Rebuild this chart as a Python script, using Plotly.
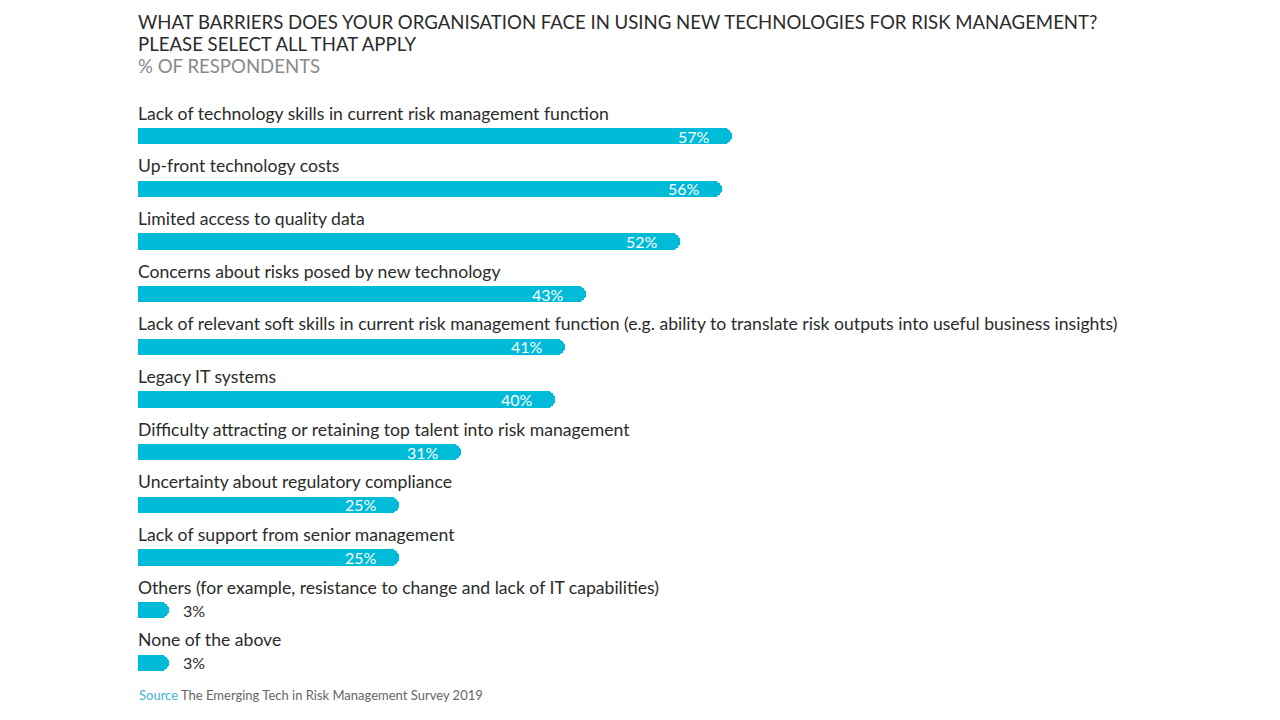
import plotly.graph_objects as go

categories = [
    "Lack of technology skills in current risk management function",
    "Up-front technology costs",
    "Limited access to quality data",
    "Concerns about risks posed by new technology",
    "Lack of relevant soft skills in current risk management function (e.g. ability to translate risk outputs into useful business insights)",
    "Legacy IT systems",
    "Difficulty attracting or retaining top talent into risk management",
    "Uncertainty about regulatory compliance",
    "Lack of support from senior management",
    "Others (for example, resistance to change and lack of IT capabilities)",
    "None of the above",
]
values = [57, 56, 52, 43, 41, 40, 31, 25, 25, 3, 3]

BAR = "#00BBD8"
FONT = "Lato, 'Open Sans', sans-serif"
positions = list(range(len(categories)))

fig = go.Figure()
fig.add_trace(go.Bar(
    x=values, y=positions, orientation="h",
    marker=dict(color=BAR, cornerradius=8, line=dict(width=0)),
    width=0.31, hoverinfo="skip",
))

annotations = []
for i, (c, v) in enumerate(zip(categories, values)):
    annotations.append(dict(
        x=0, y=i, xref="x", yref="y", text=c, showarrow=False,
        xanchor="left", yanchor="middle", yshift=23, xshift=-2,
        font=dict(family=FONT, size=17.6, color="#2b2b2b"),
    ))
    if v >= 10:
        annotations.append(dict(
            x=v, y=i, xref="x", yref="y", text=f"{v}%", showarrow=False,
            xanchor="right", yanchor="middle", xshift=-20, yshift=0,
            font=dict(family=FONT, size=16, color="white"),
        ))
    else:
        annotations.append(dict(
            x=v, y=i, xref="x", yref="y", text=f"{v}%", showarrow=False,
            xanchor="left", yanchor="middle", xshift=12, yshift=0,
            font=dict(family=FONT, size=16, color="#2b2b2b"),
        ))

def py(p):
    # page pixel y -> paper y, plot area spans page pixels 110..689
    return (689 - p) / 579

title_lines = [
    ("WHAT BARRIERS DOES YOUR ORGANISATION FACE IN USING NEW TECHNOLOGIES FOR RISK MANAGEMENT?", "#2b2b2b", 22),
    ("PLEASE SELECT ALL THAT APPLY", "#2b2b2b", 44),
    ("% OF RESPONDENTS", "#8a8a8a", 66),
]
for t, col, yp in title_lines:
    annotations.append(dict(
        x=0, y=py(yp), xref="paper", yref="paper", text=t, showarrow=False,
        xanchor="left", yanchor="middle", xshift=-2,
        font=dict(family=FONT, size=18.6, color=col),
    ))
annotations.append(dict(
    x=0, y=py(695), xref="paper", yref="paper",
    text="<span style='color:#3fb3d3'>Source</span> The Emerging Tech in Risk Management Survey 2019",
    showarrow=False, xanchor="left", yanchor="middle", xshift=-1,
    font=dict(family=FONT, size=13, color="#666666"),
))

fig.update_layout(
    width=1280, height=720,
    margin=dict(l=130, r=108, t=102, b=39),
    plot_bgcolor="white", paper_bgcolor="white",
    showlegend=False,
    xaxis=dict(range=[0, 100], visible=False, fixedrange=True),
    yaxis=dict(range=[10.5, -0.5], visible=False, fixedrange=True),
    annotations=annotations,
    bargap=0,
)

fig.write_html("out.html", config={"displayModeBar": False})
